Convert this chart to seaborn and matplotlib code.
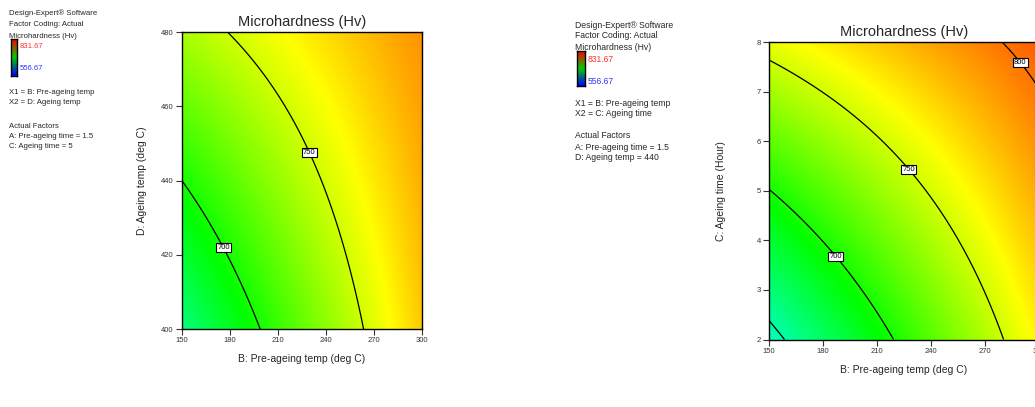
import numpy as np
import seaborn as sns
import matplotlib.pyplot as plt
from matplotlib.colors import LinearSegmentedColormap

# quadratic response surface, coded factors (-1..1):
coef_temp = [743.18, 42.28, 23.17, -15.89, -0.86, 0.35]   # X2 = D: Ageing temp
coef_time = [742.98, 43.19, 38.70, -18.39, -0.34, 0.49]   # X2 = C: Ageing time

pre_temp_range = [150, 300]
age_temp_range = [400, 480]
age_time_range = [2, 8]
x_ticks = [150, 180, 210, 240, 270, 300]
temp_ticks = [400, 420, 440, 460, 480]
time_ticks = [2, 3, 4, 5, 6, 7, 8]

temp_levels = [700, 750]
time_levels = [700, 750, 800]
time_plain_levels = [650]
hv_min, hv_max = 556.67, 831.67

cmap = LinearSegmentedColormap.from_list(
    "de", ["#0000ff", "#00ffff", "#00ff00", "#ffff00", "#ff0000"])

sns.set_theme(style="white")
plt.rcParams["font.family"] = ["Liberation Sans", "DejaVu Sans"]
fig = plt.figure(figsize=(10.35, 4.07), dpi=100)


def panel(rect, coef, yr, levels, plain, labpos, ylabel, yticks, ypad):
    ax = fig.add_axes(rect)
    B = np.linspace(*pre_temp_range, 300)
    Y = np.linspace(*yr, 300)
    BB, YY = np.meshgrid(B, Y)
    b = (BB - 225) / 75
    y = (YY - (yr[0] + yr[1]) / 2) / ((yr[1] - yr[0]) / 2)
    Z = (coef[0] + coef[1] * b + coef[2] * y + coef[3] * b * y
         + coef[4] * b ** 2 + coef[5] * y ** 2)
    ax.imshow(Z, origin="lower", extent=[*pre_temp_range, *yr], aspect="auto",
              cmap=cmap, vmin=hv_min, vmax=hv_max, interpolation="bilinear")
    if plain:
        ax.contour(BB, YY, Z, levels=plain, colors="black", linewidths=0.9)
    cs = ax.contour(BB, YY, Z, levels=levels, colors="black", linewidths=0.9)
    txts = ax.clabel(cs, fmt="%d", fontsize=5.5, inline=False, manual=labpos)
    for t in txts:
        t.set_rotation(0)
        t.set_bbox(dict(facecolor="white", edgecolor="black", pad=0.8, linewidth=0.8))
    ax.set_xlim(*pre_temp_range)
    ax.set_ylim(*yr)
    ax.set_xticks(x_ticks)
    ax.set_yticks(yticks)
    ax.tick_params(direction="out", length=4, width=0.8, labelsize=5.5,
                   colors="#333333", bottom=True, left=True, pad=2)
    for s in ax.spines.values():
        s.set_color("black")
        s.set_linewidth(1)
    ax.set_title("Microhardness (Hv)", fontsize=10.5, pad=4)
    ax.set_xlabel("B: Pre-ageing temp (deg C)", fontsize=7.5, labelpad=7)
    ax.set_ylabel(ylabel, fontsize=7.5, labelpad=ypad)
    return ax


panel([0.1758, 0.1916, 0.2319, 0.7297], coef_temp, age_temp_range, temp_levels, None,
      [(177.3, 422.2), (230, 447.7)], "D: Ageing temp (deg C)", temp_ticks, 10)
panel([0.743, 0.1658, 0.2609, 0.731], coef_time, age_time_range, time_levels,
      time_plain_levels, [(187.2, 3.68), (228.3, 5.45), (290, 7.6)],
      "C: Ageing time (Hour)", time_ticks, 22)


def px(v, total):
    return v / total


def legend(x0, ys, cb_box, xline, fac, fs):
    # ys: pixel rows of the text lines; cb_box: (left, top, width, height) in px
    head = ["Design-Expert® Software", "Factor Coding: Actual", "Microhardness (Hv)"]
    rest = ["X1 = B: Pre-ageing temp", xline, "Actual Factors",
            "A: Pre-ageing time = 1.5", fac]
    for s, yy in zip(head + rest, ys):
        fig.text(px(x0, 1035), 1 - px(yy, 407), s, fontsize=fs, va="center")
    l, t, w, h = cb_box
    cb = fig.add_axes([px(l, 1035), 1 - px(t + h, 407), px(w, 1035), px(h, 407)])
    grad = np.linspace(0, 1, 100).reshape(-1, 1)
    cb.imshow(grad, origin="lower", aspect="auto",
              cmap=LinearSegmentedColormap.from_list("lg", ["#0000ff", "#00cc00", "#ff0000"]))
    cb.set_xticks([])
    cb.set_yticks([])
    for s in cb.spines.values():
        s.set_color("black")
        s.set_linewidth(1)
    fig.text(px(l + w + 3, 1035), 1 - px(t + 8, 407), "831.67", fontsize=fs,
             color="#ff3333", va="center")
    fig.text(px(l + w + 3, 1035), 1 - px(t + 30, 407), "556.67", fontsize=fs,
             color="#3333ff", va="center")


legend(9, [13, 24, 36, 92, 103, 126, 136, 147], (11, 39, 6, 37),
       "X2 = D: Ageing temp", "C: Ageing time = 5", 5.6)
legend(575, [25, 36, 47, 103, 114, 136, 147, 158], (577, 51, 8, 35),
       "X2 = C: Ageing time", "D: Ageing temp = 440", 6.2)

fig.savefig("out.png", dpi=100)
plt.close(fig)
